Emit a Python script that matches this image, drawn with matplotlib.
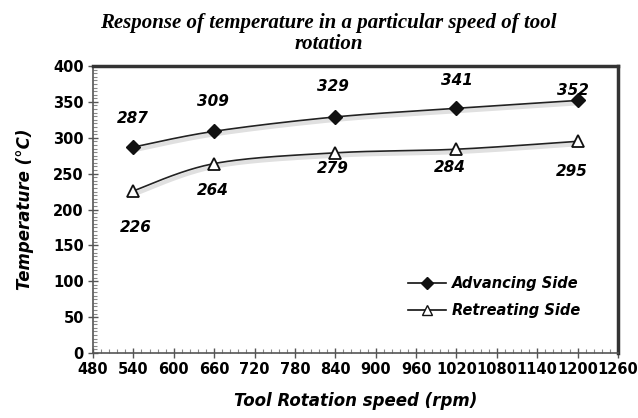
import matplotlib
matplotlib.use('Agg')
import matplotlib.pyplot as plt
import matplotlib.patheffects as pe
import numpy as np
from matplotlib.lines import Line2D
from matplotlib.ticker import MultipleLocator

speed = [540, 660, 840, 1020, 1200]
advancing = [287, 309, 329, 341, 352]
retreating = [226, 264, 279, 284, 295]

x_ticks = list(range(480, 1261, 60))
y_ticks = list(range(0, 401, 50))

# label offsets in pixels (dx, dy)
adv_offsets = [(-1, 29), (-1, 30), (-2, 30), (0, 28), (-5, 10)]
ret_offsets = [(2, -37), (-1, -27), (-2, -16), (-7, -18), (-6, -30)]

plt.rcParams['font.family'] = 'DejaVu Sans'
plt.rcParams['font.weight'] = 'bold'


def smooth(xs, ys, n=40):
    # catmull-rom style bezier, like spreadsheet smoothed lines
    pts = np.column_stack([xs, ys]).astype(float)
    p = np.vstack([pts[0], pts, pts[-1]])
    out = []
    t = np.linspace(0, 1, n)[:, None]
    for i in range(1, len(p) - 2):
        p0, p1, p2, p3 = p[i - 1], p[i], p[i + 1], p[i + 2]
        c1 = p1 + (p2 - p0) / 6
        c2 = p2 - (p3 - p1) / 6
        seg = ((1 - t) ** 3) * p1 + 3 * ((1 - t) ** 2) * t * c1 + 3 * (1 - t) * t ** 2 * c2 + t ** 3 * p2
        out.append(seg)
    out = np.vstack(out)
    return out[:, 0], out[:, 1]


fig = plt.figure(figsize=(6.38, 4.18), dpi=100)
ax = fig.add_axes([0.1458, 0.1555, 0.8228, 0.6866])

shadow = [pe.SimpleLineShadow(offset=(1.5, -2), alpha=0.12, shadow_color='black', linewidth=3),
          pe.Normal()]

sx, sy = smooth(speed, advancing)
ax.plot(sx, sy, color='#222222', lw=1.2, path_effects=shadow)
ax.plot(speed, advancing, ls='none', marker='D', ms=7, color='#111111')

sx, sy = smooth(speed, retreating)
ax.plot(sx, sy, color='#222222', lw=1.2, path_effects=shadow)
ax.plot(speed, retreating, ls='none', marker='^', ms=9, mfc='white', mec='#111111', mew=1.3)

for xv, yv, (dx, dy) in zip(speed, advancing, adv_offsets):
    ax.annotate(str(yv), (xv, yv), xytext=(dx, dy), textcoords='offset pixels',
                ha='center', va='center', fontsize=11, fontweight='bold', fontstyle='italic')
for xv, yv, (dx, dy) in zip(speed, retreating, ret_offsets):
    ax.annotate(str(yv), (xv, yv), xytext=(dx, dy), textcoords='offset pixels',
                ha='center', va='center', fontsize=11, fontweight='bold', fontstyle='italic')

ax.set_xlim(480, 1260)
ax.set_ylim(0, 400)
ax.set_xticks(x_ticks)
ax.set_yticks(y_ticks)
ax.xaxis.set_minor_locator(MultipleLocator(12))
ax.yaxis.set_minor_locator(MultipleLocator(5))
ax.tick_params(which='major', direction='inout', length=7, width=1, color='#555555', pad=3,
               labelsize=10.5, labelcolor='black')
ax.tick_params(which='minor', direction='in', length=3, width=0.8, color='#888888')

for side in ['left', 'bottom']:
    ax.spines[side].set_color('#555555')
    ax.spines[side].set_linewidth(1.2)
for side in ['top', 'right']:
    ax.spines[side].set_color('#333333')
    ax.spines[side].set_linewidth(2.5)

ax.set_xlabel('Tool Rotation speed (rpm)', fontsize=12, fontweight='bold', fontstyle='italic',
              labelpad=11)
ax.set_ylabel('Temperature (°C)', fontsize=12, fontweight='bold', fontstyle='italic',
              labelpad=14)
fig.text(0.515, 0.968, 'Response of temperature in a particular speed of tool\nrotation',
         ha='center', va='top', fontsize=15, fontweight='bold', fontstyle='italic',
         family='Liberation Serif', linespacing=1.05)

handles = [
    Line2D([], [], color='#111111', lw=1.2, marker='D', ms=6),
    Line2D([], [], color='#111111', lw=1.2, marker='^', ms=7, mfc='white', mec='#111111'),
]
ax.legend(handles, ['Advancing Side', 'Retreating Side'], loc='upper left',
          bbox_to_anchor=(0.575, 0.315), frameon=False, handlelength=2.6, handletextpad=0.4,
          labelspacing=0.85, prop={'weight': 'bold', 'style': 'italic', 'size': 10.5})

fig.savefig('out.png', dpi=100)
